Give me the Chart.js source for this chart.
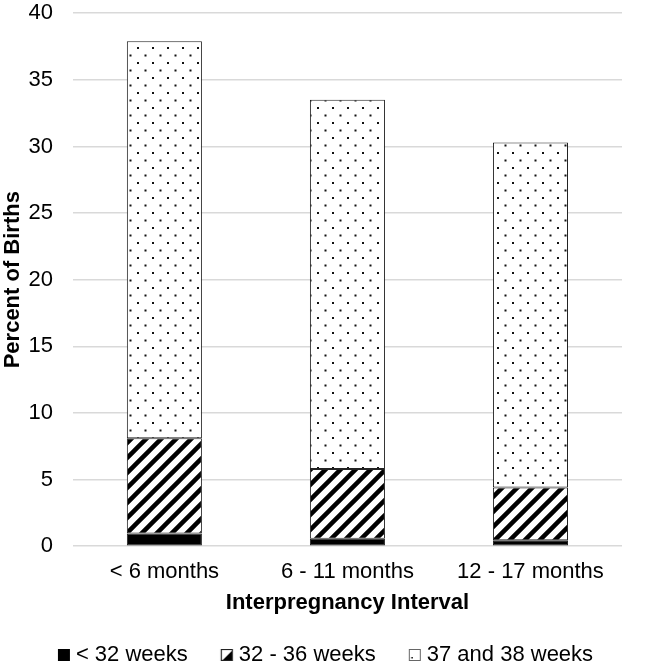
<!DOCTYPE html>
<html>
<head>
<meta charset="utf-8">
<script src="https://cdn.jsdelivr.net/npm/chart.js@4/dist/chart.umd.min.js"></script>
<style>
  html, body { margin: 0; padding: 0; background: #fff; }
  #wrap { width: 646px; height: 671px; }
</style>
</head>
<body>
<div id="wrap"><canvas id="chart"></canvas></div>
<script>
const categories = ["< 6 months", "6 - 11 months", "12 - 17 months"];
const seriesNames = ["< 32 weeks", "32 - 36 weeks", "37 and 38 weeks"];
const under32 = [0.95, 0.55, 0.45];
const weeks32to36 = [7.15, 5.25, 3.95];
const weeks37to38 = [29.8, 27.7, 25.9];
const yTicks = [0, 5, 10, 15, 20, 25, 30, 35, 40];

const FONT = "'Liberation Sans', Arial, sans-serif";

function makeHatch() {
  const c = document.createElement("canvas");
  c.width = 15;
  c.height = 15;
  const ctx = c.getContext("2d");
  ctx.fillStyle = "#fff";
  ctx.fillRect(0, 0, 15, 15);
  ctx.strokeStyle = "#000";
  ctx.lineWidth = 4.5;
  ctx.beginPath();
  ctx.moveTo(-2, 17); ctx.lineTo(17, -2);
  ctx.moveTo(-3, 3); ctx.lineTo(3, -3);
  ctx.moveTo(12, 18); ctx.lineTo(18, 12);
  ctx.stroke();
  return ctx.createPattern(c, "repeat");
}

function makeDots() {
  const c = document.createElement("canvas");
  c.width = 15;
  c.height = 15;
  const ctx = c.getContext("2d");
  ctx.fillStyle = "#fff";
  ctx.fillRect(0, 0, 15, 15);
  ctx.fillStyle = "#111";
  ctx.fillRect(2, 2, 2, 2);
  ctx.fillRect(9.5, 9.5, 2, 2);
  return ctx.createPattern(c, "repeat");
}

// legend icon sits on the right of a wider image so the gap to the text is small
function legendIcon(kind) {
  const c = document.createElement("canvas");
  c.width = 24;
  c.height = 12;
  const ctx = c.getContext("2d");
  ctx.translate(11, 0);
  ctx.fillStyle = "#fff";
  ctx.fillRect(0, 0, 12, 12);
  ctx.fillStyle = "#000";
  if (kind === 0) {
    ctx.fillRect(0, 0, 12, 12);
  } else if (kind === 1) {
    ctx.beginPath();
    ctx.moveTo(12, 1); ctx.lineTo(12, 12); ctx.lineTo(1, 12);
    ctx.closePath();
    ctx.fill();
    ctx.strokeStyle = "#222";
    ctx.lineWidth = 1.2;
    ctx.strokeRect(0.5, 0.5, 11, 11);
  } else {
    ctx.strokeStyle = "#666";
    ctx.strokeRect(0.5, 0.5, 11, 11);
    ctx.fillRect(2.5, 8, 1.5, 1.5);
  }
  return c;
}

const fills = ["#000", makeHatch(), makeDots()];
const values = [under32, weeks32to36, weeks37to38];

// nudge the legend row a bit to the right, like the original
const legendShift = {
  id: "legendShift",
  afterLayout(c) {
    c.legend.left += 12;
    c.legend.right += 12;
  },
};

const chart = new Chart(document.getElementById("chart"), {
  type: "bar",
  data: {
    labels: categories,
    datasets: seriesNames.map((name, i) => ({
      label: name,
      data: values[i],
      backgroundColor: fills[i],
      borderColor: "#222",
      borderWidth: 1,
      borderSkipped: false,
      barPercentage: 0.41,
      categoryPercentage: 1,
      pointStyle: legendIcon(i),
    })),
  },
  plugins: [legendShift],
  options: {
    responsive: true,
    maintainAspectRatio: false,
    animation: false,
    layout: { padding: { top: 0, right: 24, left: 0, bottom: 0 } },
    plugins: {
      tooltip: { enabled: false },
      legend: {
        position: "bottom",
        maxHeight: 55,
        labels: {
          usePointStyle: true,
          boxWidth: 12,
          boxHeight: 12,
          padding: 28,
          color: "#000",
          font: { family: FONT, size: 22 },
        },
      },
    },
    scales: {
      x: {
        stacked: true,
        grid: { display: false, drawTicks: true, tickLength: 13, tickColor: "transparent" },
        border: { display: false },
        ticks: {
          color: "#000",
          padding: 0,
          font: { family: FONT, size: 22 },
        },
        title: {
          display: true,
          text: "Interpregnancy Interval",
          color: "#000",
          padding: { top: 4, bottom: 0 },
          font: { family: FONT, size: 22, weight: "bold" },
        },
      },
      y: {
        stacked: true,
        min: 0,
        max: 40,
        afterBuildTicks: (axis) => {
          axis.ticks = yTicks.map((v) => ({ value: v }));
        },
        grid: { color: "#d9d9d9", lineWidth: 1.5, drawTicks: true, tickLength: 20, tickColor: "transparent" },
        border: { display: false },
        ticks: {
          color: "#000",
          padding: 0,
          font: { family: FONT, size: 22 },
        },
        title: {
          display: true,
          text: "Percent of Births",
          color: "#000",
          padding: { top: 0, bottom: 2 },
          font: { family: FONT, size: 22, weight: "bold" },
        },
      },
    },
  },
});
</script>
</body>
</html>
